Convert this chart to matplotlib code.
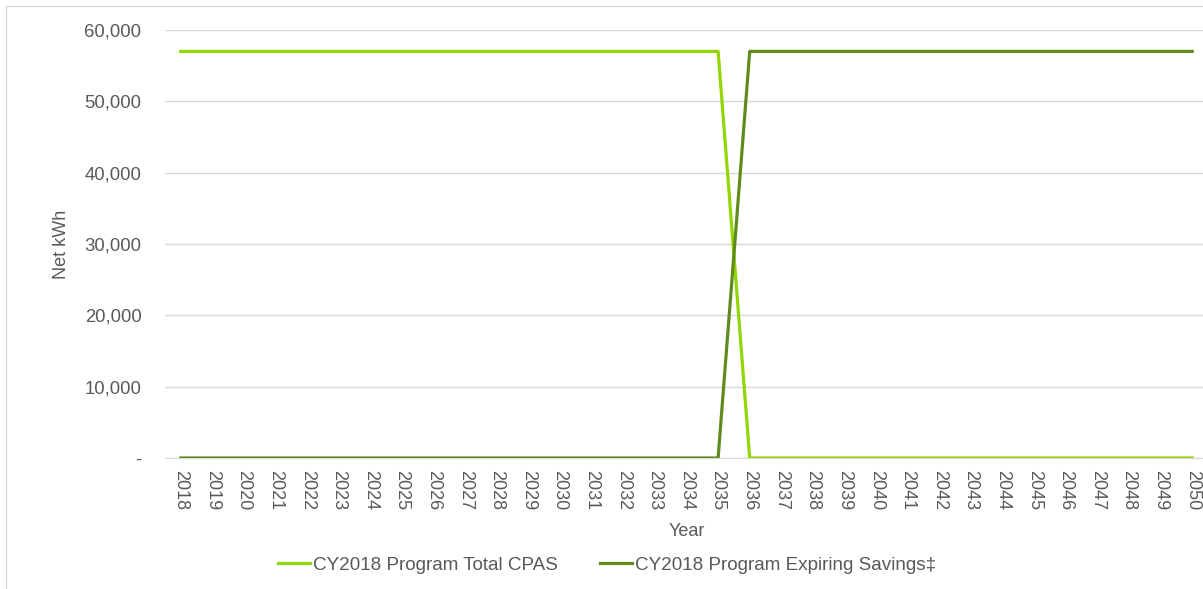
import matplotlib.pyplot as plt
from matplotlib.patches import Rectangle
from matplotlib.ticker import FuncFormatter

plt.rcParams['font.family'] = ['Liberation Sans', 'DejaVu Sans']

years = list(range(2018, 2051))
total_cpas = [57000] * 18 + [0] * 15
expiring = [0] * 18 + [57000] * 15

light = '#93D500'
dark = '#5F8B1E'
grey_txt = '#595959'

fig = plt.figure(figsize=(12.03, 5.89), dpi=100)
ax = fig.add_axes([165 / 1203, 131 / 589, 1043 / 1203, 428 / 589])

x = list(range(len(years)))
ax.plot(x, total_cpas, color=light, lw=2.3, label='CY2018 Program Total CPAS', zorder=3)
ax.plot(x, expiring, color=dark, lw=2.3, label='CY2018 Program Expiring Savings\u2021', zorder=3)

ax.set_xlim(-0.5, len(years) - 0.5)
ax.set_ylim(0, 60000)
ax.set_yticks(range(0, 60001, 10000))
ax.yaxis.set_major_formatter(FuncFormatter(lambda v, p: '-' if v == 0 else '{:,.0f}'.format(v)))
ax.set_xticks(x)
ax.set_xticklabels([str(y) for y in years], rotation=-90)

ax.grid(axis='y', color='#D9D9D9', lw=1)
ax.set_axisbelow(True)
for s in ['top', 'right', 'left']:
    ax.spines[s].set_visible(False)
ax.spines['bottom'].set_color('#D9D9D9')
ax.tick_params(axis='y', length=0, pad=17, labelsize=13.3, labelcolor=grey_txt)
ax.tick_params(axis='x', length=0, pad=9, labelsize=13, labelcolor=grey_txt)

fig.text(62 / 1203, 1 - 244 / 589, 'Net kWh', rotation=90, ha='center', va='center',
         fontsize=13, color=grey_txt)
fig.text(687 / 1203, 1 - 532 / 589, 'Year', ha='center', va='center',
         fontsize=13, color=grey_txt)

fig.legend(loc='center', bbox_to_anchor=(607 / 1203, 1 - 565 / 589), ncol=2, frameon=False,
           fontsize=13.6, labelcolor=grey_txt,
           handlelength=1.7, handletextpad=0.15, columnspacing=2.2)

fig.patches.append(Rectangle((6 / 1203, -0.1), 1.2, 1 - 6 / 589 + 0.1, transform=fig.transFigure,
                             fill=False, edgecolor='#D9D9D9', lw=1))

fig.savefig('out.png', dpi=100)
